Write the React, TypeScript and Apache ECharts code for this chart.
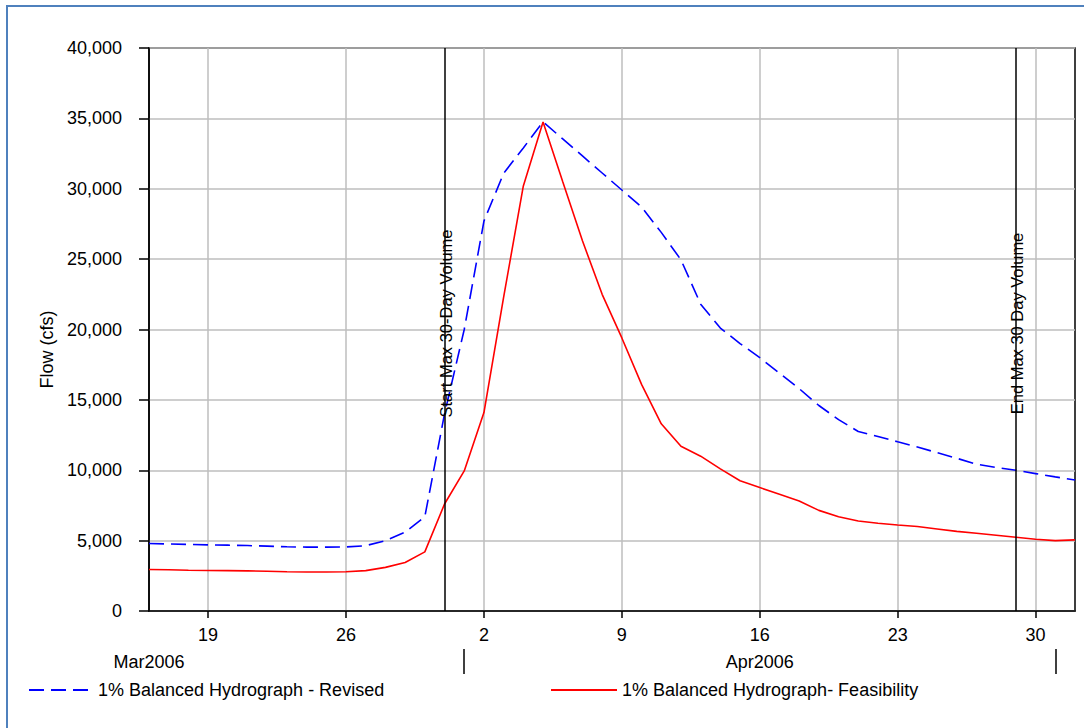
import React, { useEffect, useRef } from 'react';
import * as echarts from 'echarts';

const categories = [
  '3/16', '3/17', '3/18', '3/19', '3/20', '3/21', '3/22', '3/23', '3/24', '3/25', '3/26', '3/27', '3/28', '3/29', '3/30', '3/31',
  '4/1', '4/2', '4/3', '4/4', '4/5', '4/6', '4/7', '4/8', '4/9', '4/10', '4/11', '4/12', '4/13', '4/14', '4/15', '4/16',
  '4/17', '4/18', '4/19', '4/20', '4/21', '4/22', '4/23', '4/24', '4/25', '4/26', '4/27', '4/28', '4/29', '4/30',
  '5/1', '5/2',
];

const tickDates = ['3/19', '3/26', '4/2', '4/9', '4/16', '4/23', '4/30'];
const tickLabels = ['19', '26', '2', '9', '16', '23', '30'];

const monthLabelDates = ['3/16', '4/16'];
const monthLabels = ['Mar2006', 'Apr2006'];
const monthBoundaries = ['4/1', '5/1'];

const revisedName = '1% Balanced Hydrograph - Revised';
const feasibilityName = '1% Balanced Hydrograph- Feasibility';

const revised = [
  4800, 4760, 4730, 4700, 4680, 4650, 4610, 4560, 4540, 4540, 4550, 4640, 5000, 5600, 6700, 14000,
  20000, 27700, 31100, 32900, 34750, 33540, 32330, 31120, 29910, 28700, 26900, 24950, 21800, 20100, 19000, 18000,
  16900, 15800, 14600, 13600, 12750, 12400, 12020, 11650, 11250, 10850, 10430, 10200, 10000, 9760, 9530, 9310,
];

const feasibility = [
  2950, 2930, 2900, 2880, 2870, 2850, 2820, 2790, 2770, 2770, 2790, 2870, 3100, 3450, 4200, 7600,
  9950, 14100, 22300, 30200, 34750, 30500, 26300, 22500, 19400, 16100, 13300, 11700, 11000, 10100, 9250, 8770,
  8300, 7820, 7150, 6700, 6400, 6230, 6110, 6000, 5830, 5660, 5520, 5380, 5240, 5100, 5000, 5050,
];

const markerDates = ['3/31', '4/29'];
const markerLabels = ['Start Max 30-Day Volume', 'End Max 30 Day Volume'];

const FONT = '"Liberation Sans", Arial, sans-serif';

export default function App() {
  const ref = useRef<HTMLDivElement>(null);

  useEffect(() => {
    if (!ref.current) return;
    const chart = echarts.init(ref.current, undefined, { renderer: 'svg' });
    const isTick = (_i: number, v: string) => tickDates.indexOf(v) >= 0;
    const option: any = {
      animation: false,
      backgroundColor: '#ffffff',
      textStyle: { fontFamily: FONT },
      graphic: [
        {
          type: 'rect',
          shape: { x: 7, y: 6, width: 1200, height: 800 },
          style: { fill: 'none', stroke: '#4F81BD', lineWidth: 2 },
          silent: true,
        },
      ],
      grid: {
        left: 149,
        top: 48,
        right: 9,
        bottom: 117,
        show: true,
        borderColor: '#000',
        borderWidth: 1.5,
        backgroundColor: 'transparent',
      },
      legend: [
        {
          data: [revisedName],
          left: 23,
          top: 676,
          itemWidth: 64,
          itemHeight: 14,
          itemStyle: { opacity: 0 },
          textStyle: { fontSize: 18, color: '#000', fontFamily: FONT },
        },
        {
          data: [feasibilityName],
          left: 545,
          top: 676,
          itemWidth: 66,
          itemHeight: 14,
          itemStyle: { opacity: 0 },
          textStyle: { fontSize: 18, color: '#000', fontFamily: FONT },
        },
      ],
      xAxis: [
        {
          type: 'category',
          data: categories,
          boundaryGap: false,
          axisLine: { show: true, lineStyle: { color: '#000', width: 1.5 } },
          axisTick: { show: true, interval: isTick, length: 7, lineStyle: { color: '#000', width: 1.5 } },
          splitLine: { show: true, interval: isTick, lineStyle: { color: '#BEBEBE', width: 1.5 } },
          axisLabel: {
            interval: isTick,
            margin: 15,
            fontSize: 18,
            color: '#000',
            fontFamily: FONT,
            formatter: (v: string) => {
              const k = tickDates.indexOf(v);
              return k >= 0 ? tickLabels[k] : '';
            },
          },
        },
        {
          type: 'category',
          data: categories,
          boundaryGap: false,
          position: 'bottom',
          offset: 38,
          axisLine: { show: false },
          axisTick: {
            show: true,
            interval: (_i: number, v: string) => monthBoundaries.indexOf(v) >= 0,
            length: 25,
            lineStyle: { color: '#000', width: 1.5 },
          },
          splitLine: { show: false },
          axisLabel: {
            interval: (_i: number, v: string) => monthLabelDates.indexOf(v) >= 0,
            margin: 4,
            fontSize: 18,
            color: '#000',
            fontFamily: FONT,
            formatter: (v: string) => {
              const k = monthLabelDates.indexOf(v);
              return k >= 0 ? monthLabels[k] : '';
            },
          },
        },
      ],
      yAxis: {
        type: 'value',
        min: 0,
        max: 40000,
        interval: 5000,
        name: 'Flow (cfs)',
        nameLocation: 'middle',
        nameRotate: 90,
        nameGap: 92,
        nameTextStyle: { fontSize: 18, color: '#000', fontFamily: FONT, padding: [0, 40, 0, 0] },
        axisLine: { show: true, lineStyle: { color: '#000', width: 1.5 } },
        axisTick: { show: true, length: 10, lineStyle: { color: '#000', width: 1.5 } },
        splitLine: { show: true, lineStyle: { color: '#BEBEBE', width: 1.5 } },
        axisLabel: {
          margin: 27,
          fontSize: 18,
          color: '#000',
          fontFamily: FONT,
          formatter: (v: number) => v.toLocaleString('en-US'),
        },
      },
      series: [
        {
          name: revisedName,
          type: 'line',
          data: revised,
          symbol: 'none',
          showSymbol: false,
          lineStyle: { color: '#0000FF', width: 1.6, type: [15, 7] },
          itemStyle: { color: '#0000FF' },
          z: 3,
        },
        {
          name: feasibilityName,
          type: 'line',
          data: feasibility,
          symbol: 'none',
          showSymbol: false,
          lineStyle: { color: '#FF0000', width: 1.6 },
          itemStyle: { color: '#FF0000' },
          z: 4,
          markLine: {
            silent: true,
            symbol: 'none',
            lineStyle: { color: '#000', width: 1.5, type: 'solid' },
            label: {
              show: true,
              position: 'middle',
              distance: -10,
              padding: [0, 0, 0, 12],
              fontSize: 16.5,
              color: '#000',
              fontFamily: FONT,
            },
            data: markerDates.map((d, k) => ({
              xAxis: d,
              label: { formatter: markerLabels[k] },
            })),
          },
        },
      ],
    };
    chart.setOption(option);
    return () => chart.dispose();
  }, []);

  return (
    <div
      ref={ref}
      style={{ position: 'absolute', left: 0, top: 0, width: 1084, height: 728, background: '#fff' }}
    />
  );
}
